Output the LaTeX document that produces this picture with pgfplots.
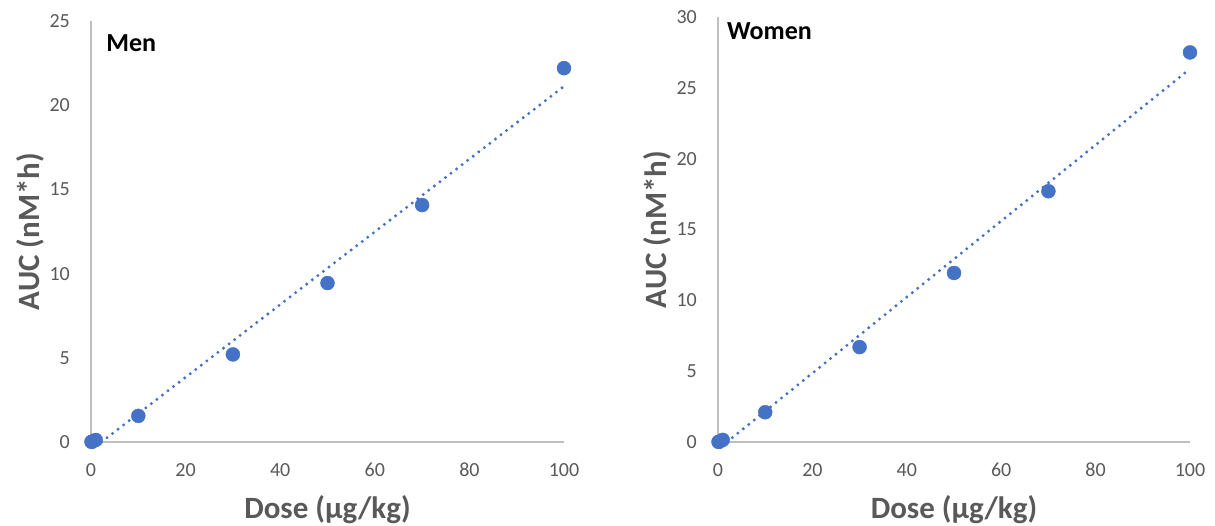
\documentclass[border=0pt]{standalone}
\usepackage{fontspec}
\setmainfont{Carlito}
\usepackage{pgfplots}
\pgfplotsset{compat=1.18}
\definecolor{xlblue}{HTML}{4472C4}
\definecolor{txtgray}{HTML}{595959}
\definecolor{axgray}{HTML}{BFBFBF}
\pgfplotsset{
  myax/.style={
    scale only axis,
    axis x line=bottom, axis y line=left,
    axis line style={-, draw=axgray, line width=1.3pt},
    major tick length=0pt,
    xmin=0, xmax=100, ymin=0,
    xtick={0,20,40,60,80,100},
    tick label style={font=\fontsize{20}{22}\selectfont, text=txtgray, inner sep=0pt},
    /pgf/number format/assume math mode=true,
    xticklabel style={anchor=center, yshift=-28pt},
    yticklabel style={anchor=east, xshift=-21pt},
    xlabel={Dose (µg/kg)},
    ylabel={AUC (nM*h)},
    label style={font=\fontsize{31}{34}\selectfont\bfseries, text=txtgray, inner sep=0pt},
    xlabel style={at={([yshift=-68pt]axis description cs:0.5,0)}, anchor=center},
    ylabel style={at={([xshift=-61pt]axis description cs:0,0.5)}, anchor=center},
    clip=false,
    anchor=south west,
  },
  dotmark/.style={only marks, mark=*, mark size=7pt, mark options={fill=xlblue, draw=xlblue}},
  trend/.style={no marks, draw=xlblue, line width=3.3pt, line cap=round, dash pattern=on 0pt off 7pt},
}
\begin{document}
\begin{tikzpicture}
\path[use as bounding box] (0pt,0pt) rectangle (1215pt,526pt);
\begin{axis}[myax, at={(91pt,84pt)}, width=473pt, height=421pt, ymax=25, ytick={0,5,10,15,20,25}]
\addplot[trend] coordinates {(2.2,0) (100,21.12)};
\addplot[dotmark] coordinates {
(0.1,0.01) (0.3,0.03) (1,0.12) (10,1.55) (30,5.2) (50,9.44) (70,14.07) (100,22.2)};
\node[anchor=west, inner sep=0pt, font=\fontsize{26}{28}\selectfont\bfseries] at (axis description cs:0.032,0.948) {Men};
\end{axis}
\begin{axis}[myax, at={(718pt,84pt)}, width=472pt, height=425pt, ymax=30, ytick={0,5,10,15,20,25,30}]
\addplot[trend] coordinates {(1.9,0) (100,26.34)};
\addplot[dotmark] coordinates {
(0.1,0.01) (0.3,0.03) (1,0.15) (10,2.1) (30,6.7) (50,11.93) (70,17.7) (100,27.5)};
\node[anchor=west, inner sep=0pt, font=\fontsize{26}{28}\selectfont\bfseries] at (axis description cs:0.019,0.967) {Women};
\end{axis}
\end{tikzpicture}
\end{document}
